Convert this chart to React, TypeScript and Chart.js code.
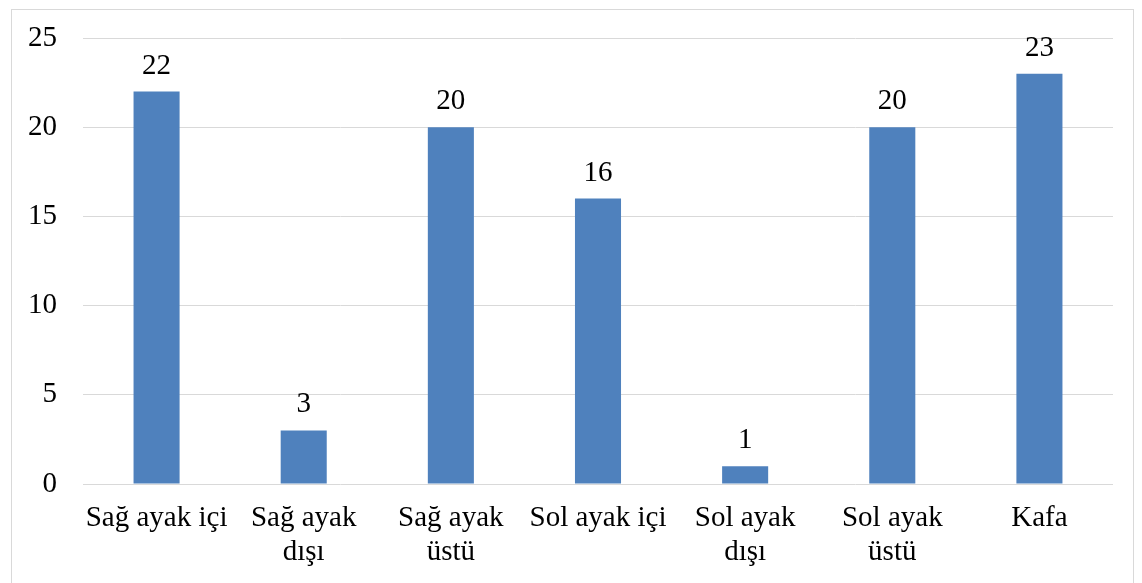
import React, { useEffect, useRef } from "react";
import { Chart, registerables } from "chart.js";

Chart.register(...registerables);

const categories: (string | string[])[] = [
  "Sağ ayak içi",
  ["Sağ ayak", "dışı"],
  ["Sağ ayak", "üstü"],
  "Sol ayak içi",
  ["Sol ayak", "dışı"],
  ["Sol ayak", "üstü"],
  "Kafa",
];
const values: number[] = [22, 3, 20, 16, 1, 20, 23];
const yTicks: number[] = [0, 5, 10, 15, 20, 25];

const FONT = '"Liberation Serif", "Times New Roman", serif';

const framePlugin = {
  id: "frame",
  beforeDraw(chart: any) {
    const ctx = chart.ctx;
    ctx.save();
    ctx.strokeStyle = "#d9d9d9";
    ctx.lineWidth = 1;
    ctx.strokeRect(11.5, 9.5, 1122, 620);
    ctx.restore();
  },
};

const labelPlugin = {
  id: "valueLabels",
  afterDatasetsDraw(chart: any) {
    const ctx = chart.ctx;
    const meta = chart.getDatasetMeta(0);
    ctx.save();
    ctx.font = `29px ${FONT}`;
    ctx.fillStyle = "#000";
    ctx.textAlign = "center";
    ctx.textBaseline = "alphabetic";
    meta.data.forEach((bar: any, i: number) => {
      ctx.fillText(String(chart.data.datasets[0].data[i]), bar.x, bar.y - 18);
    });
    ctx.restore();
  },
};

export default function App() {
  const ref = useRef<HTMLCanvasElement>(null);
  useEffect(() => {
    document.body.style.margin = "0";
    const chart = new Chart(ref.current!, {
      type: "bar",
      data: {
        labels: categories,
        datasets: [
          {
            data: values,
            backgroundColor: "#4F81BD",
            borderWidth: 0,
            categoryPercentage: 1,
            barPercentage: 0.313,
          },
        ],
      },
      options: {
        animation: false,
        responsive: false,
        layout: { padding: { left: 0, top: 38, right: 29, bottom: 0 } },
        plugins: { legend: { display: false }, tooltip: { enabled: false } },
        scales: {
          x: {
            afterFit: (s: any) => {
              s.height = 99;
              s.paddingLeft = 0;
              s.paddingRight = 0;
            },
            grid: { display: false, drawTicks: false },
            border: { display: false },
            ticks: {
              color: "#000",
              font: { family: FONT, size: 29, lineHeight: 1.15 },
              maxRotation: 0,
              autoSkip: false,
              padding: 18,
            },
          },
          y: {
            min: 0,
            max: 25,
            afterFit: (s: any) => {
              s.width = 83;
              s.paddingTop = 0;
              s.paddingBottom = 0;
            },
            afterBuildTicks: (s: any) => {
              s.ticks = yTicks.map((v) => ({ value: v }));
            },
            grid: { color: "#d9d9d9", lineWidth: 1, drawTicks: false },
            border: { display: false },
            ticks: {
              color: "#000",
              font: { family: FONT, size: 29 },
              padding: 26,
            },
          },
        },
      },
      plugins: [framePlugin, labelPlugin],
    });
    return () => chart.destroy();
  }, []);
  return (
    <div style={{ position: "fixed", left: 0, top: 0, width: 1142, height: 583 }}>
      <canvas ref={ref} width={1142} height={583} />
    </div>
  );
}
